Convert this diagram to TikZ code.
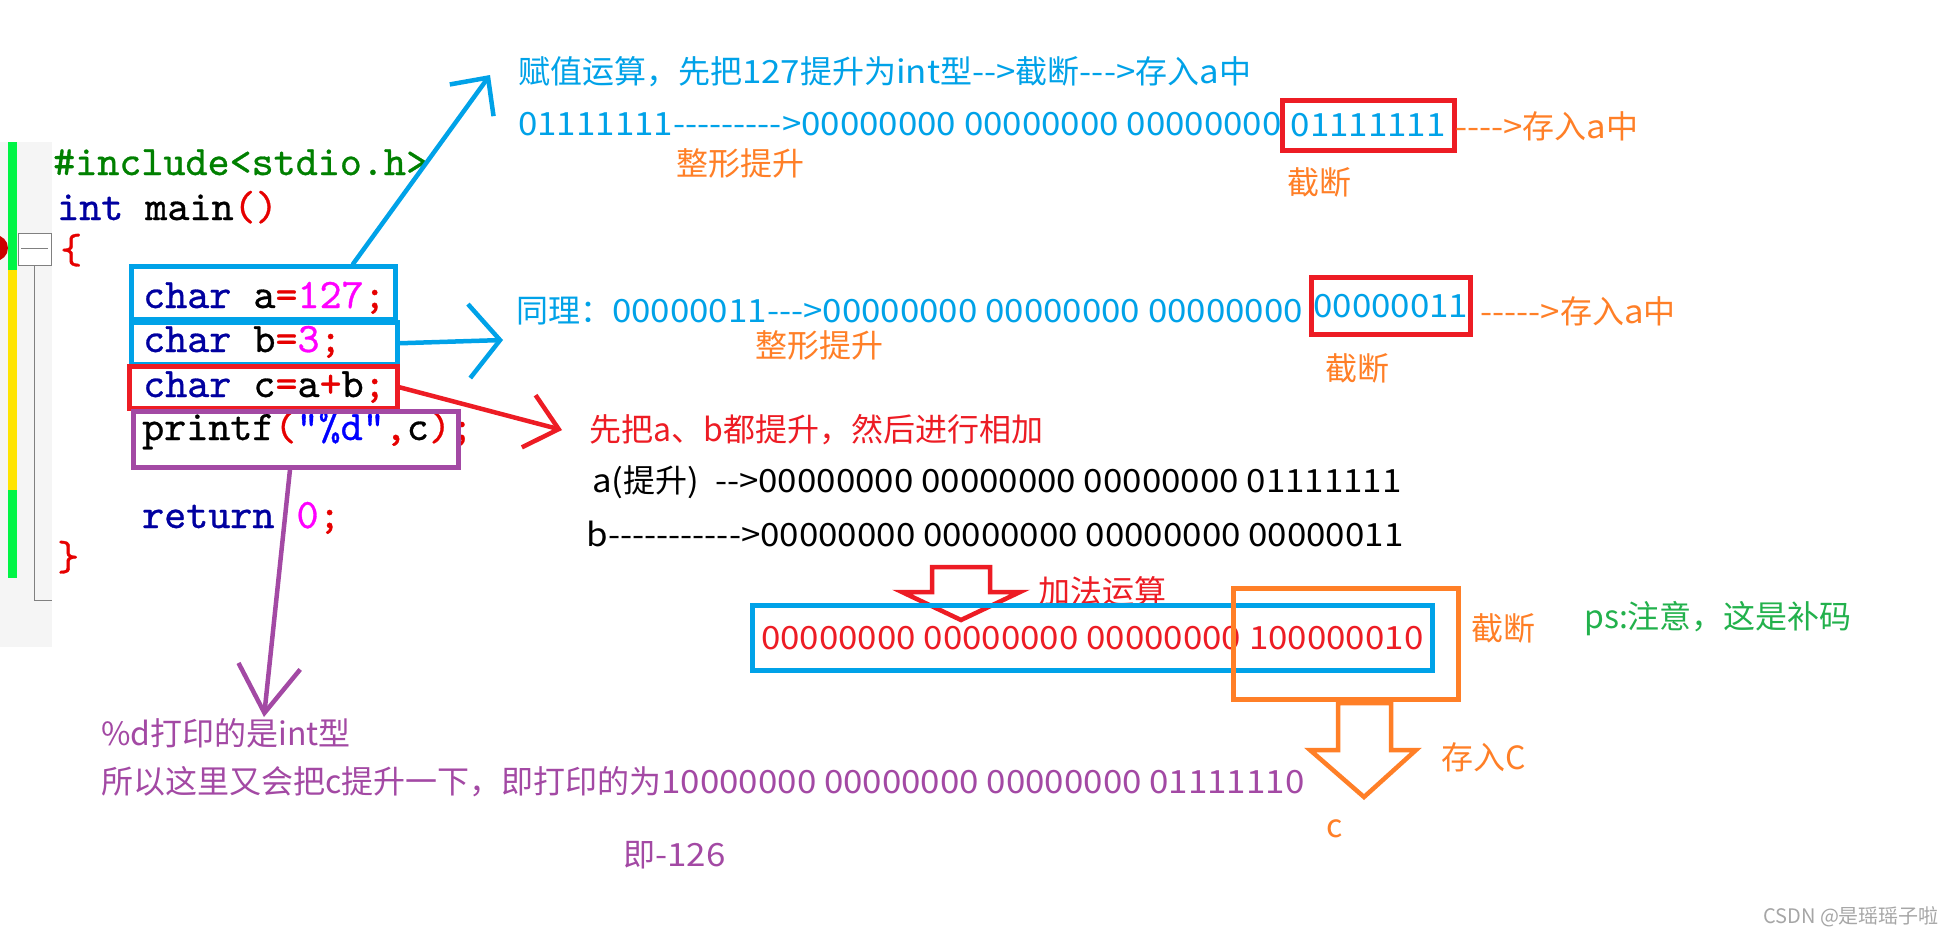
\documentclass[tikz,border=0pt]{standalone}
\usepackage{fontspec}
\newfontfamily\zh{Noto Sans CJK SC}
\newfontfamily\latfont{Noto Sans CJK SC}[FakeStretch=1.09]
\newfontfamily\codefont{lmmono10-regular.otf}[FakeBold=0.7]
\newcommand\bits[1]{{\latfont #1}}
\usetikzlibrary{arrows.meta, positioning}
\definecolor{inkblue}{RGB}{0,162,232}
\definecolor{inkorange}{RGB}{255,127,39}
\definecolor{inkred}{RGB}{237,28,36}
\definecolor{inkpurple}{RGB}{163,73,164}
\definecolor{inkgreen}{RGB}{34,177,76}
\definecolor{kwblue}{RGB}{0,0,160}
\definecolor{incgreen}{RGB}{0,128,0}
\definecolor{opred}{RGB}{230,0,0}
\definecolor{nummag}{RGB}{255,0,255}
\definecolor{strblue}{RGB}{0,0,255}
\definecolor{bargreen}{RGB}{0,245,70}
\definecolor{baryellow}{RGB}{255,228,0}
\tikzset{
  codeline/.style={anchor=base west, inner sep=0pt, font=\codefont\fontsize{42}{46}\selectfont},
  note/.style={anchor=base west, inner sep=0pt, font=\zh\fontsize{32}{36}\selectfont},
  markbox/.style={draw, line width=4.5pt, inner sep=0pt, anchor=north west},
  numbox/.style={markbox, font=\zh\fontsize{32}{36}\selectfont},
  pen/.style={line width=4.5pt, line cap=round},
  barb/.style 2 args={pen, -{Straight Barb[length=#1, width=#2]}},
  blockarrow/.style={line width=4.5pt, line join=miter},
}
\begin{document}
\begin{tikzpicture}[x=1pt, y=-1pt]
  \useasboundingbox (0,0) rectangle (1950,935);
  \fill[white] (0,0) rectangle (1950,935);
  % editor gutter
  \fill[gray!8] (0,142) rectangle (52,647);
  \fill[bargreen] (8,142) rectangle (17,270);
  \fill[baryellow] (8,270) rectangle (17,490);
  \fill[bargreen] (8,490) rectangle (17,578);
  \fill[red!80!black] (-5,248) circle (13pt);
  \draw[gray, line width=1pt, fill=white] (18,233) rectangle (51,265);
  \draw[gray, line width=1pt] (21,248) -- (48,248);
  \draw[gray, line width=1pt] (34,265) -- (34,600) -- (52,600);

  \node[codeline, text=incgreen] (inc) at (53,175) {\#include<stdio.h>};
  \node[codeline] (mainln) at (57,220) {\textcolor{kwblue}{int} main\textcolor{opred}{()}};
  \node[codeline, text=opred] (lbrace) at (60,263) {\{};
  \node[codeline] (la) at (143,308) {\textcolor{kwblue}{char} a\textcolor{opred}{=}\textcolor{nummag}{127}\textcolor{opred}{;}};
  \node[codeline] (lb) at (143,352) {\textcolor{kwblue}{char} b\textcolor{opred}{=}\textcolor{nummag}{3}\textcolor{opred}{;}};
  \node[codeline] (lc) at (143,397) {\textcolor{kwblue}{char} c\textcolor{opred}{=}a\textcolor{opred}{+}b\textcolor{opred}{;}};
  \node[codeline] (lp) at (142,440) {printf\textcolor{opred}{(}\textcolor{strblue}{”\%d”}\textcolor{opred}{,}c\textcolor{opred}{);}};
  \node[codeline] (lr) at (142,528) {\textcolor{kwblue}{return} \textcolor{nummag}{0}\textcolor{opred}{;}};
  \node[codeline, text=opred] (rbrace) at (57,570) {\}};

  \node[markbox, draw=inkblue, minimum width=264pt, minimum height=53pt] (boxa) at (129,264) {};
  \node[markbox, draw=inkblue, minimum width=266pt, minimum height=42pt] (boxb) at (129,320) {};
  \node[markbox, draw=inkred, minimum width=268pt, minimum height=42pt] (boxc) at (127,364) {};
  \node[markbox, draw=inkpurple, minimum width=325pt, minimum height=56pt] (boxp) at (131,409) {};

  % char a
  \node[note, text=inkblue] (t1) at (518,83) {赋值运算，先把\bits{127}提升为\bits{int}型\bits{-->}截断\bits{--->}存入\bits{a}中};
  \node[note, text=inkblue] (t2) at (518,135) {\bits{01111111--------->00000000 00000000 00000000}};
  \node[numbox, draw=inkred, text=inkblue, minimum width=172pt, minimum height=50pt] (cut1) at (1280,98) {\bits{01111111}};
  \node[note, text=inkorange] (st1) at (1455,138) {\bits{---->}存入\bits{a}中};
  \node[note, text=inkorange] (pro1) at (676,175) {整形提升};
  \node[note, text=inkorange] (cn1) at (1287,194) {截断};

  % char b
  \node[note, text=inkblue] (t3) at (516,322) {同理：\bits{00000011--->00000000 00000000 00000000}};
  \node[numbox, draw=inkred, text=inkblue, minimum width=159pt, minimum height=57pt] (cut2) at (1309,275) {\bits{00000011}};
  \node[note, text=inkorange] (st2) at (1480,323) {\bits{----->}存入\bits{a}中};
  \node[note, text=inkorange] (pro2) at (755,357) {整形提升};
  \node[note, text=inkorange] (cn2) at (1325,380) {截断};

  % char c
  \node[note, text=inkred] (sum) at (589,441) {先把a、b都提升，然后进行相加};
  \node[note] (pa) at (592,492) {\bits{a(}提升\bits{)\ \ -->00000000 00000000 00000000 01111111}};
  \node[note] (pb) at (586,546) {\bits{b----------->00000000 00000000 00000000 00000011}};
  \draw[blockarrow, draw=inkred] (932,567) -- (990,567) -- (990,592) -- (1020,592) -- (961,620) -- (902,592) -- (932,592) -- cycle;
  \node[note, text=inkred] (add) at (1038,603) {加法运算};
  \node[numbox, draw=inkblue, text=inkred, minimum width=680pt, minimum height=65pt] (res) at (750,603) {\bits{00000000 00000000 00000000 100000010}};
  \node[markbox, draw=inkorange, minimum width=225pt, minimum height=111pt] (trunc) at (1231,586) {};
  \node[note, text=inkorange] (cn3) at (1471,640) {截断};
  \node[note, text=inkgreen] (ps) at (1584,628) {ps:注意，这是补码};
  \draw[blockarrow, draw=inkorange] (1338,703) -- (1391,703) -- (1391,750) -- (1416,750) -- (1364,797) -- (1310,750) -- (1338,750) -- cycle;
  \node[note, text=inkorange] (into) at (1441,769) {存入C};
  \node[note, text=inkorange] (cvar) at (1326,837) {c};

  % printf
  \node[note, text=inkpurple] (fmt) at (101,745) {\%d打印的是int型};
  \node[note, text=inkpurple] (why) at (101,793) {所以这里又会把c提升一下，即打印的为\bits{10000000 00000000 00000000 01111110}};
  \node[note, text=inkpurple] (val) at (623,866) {即\bits{-126}};
  \node[note, text=gray!70, font=\zh\fontsize{20}{24}\selectfont] (wm) at (1763,923) {CSDN @是瑶瑶子啦};

  \coordinate (tipa) at (490,75);
  \coordinate (tipb) at (503,340);
  \coordinate (tipc) at (562,430);
  \coordinate (tipd) at (264,717);
  \draw[barb={28pt}{54pt}, inkblue] ([xshift=224pt]boxa.north west) -- (tipa);
  \draw[barb={31pt}{74pt}, inkblue] (boxb.east) -- (tipb);
  \draw[barb={31pt}{54pt}, inkred] (boxc.east) -- (tipc);
  \draw[barb={47pt}{62pt}, inkpurple] ([xshift=159pt]boxp.south west) -- (tipd);
\end{tikzpicture}
\end{document}
